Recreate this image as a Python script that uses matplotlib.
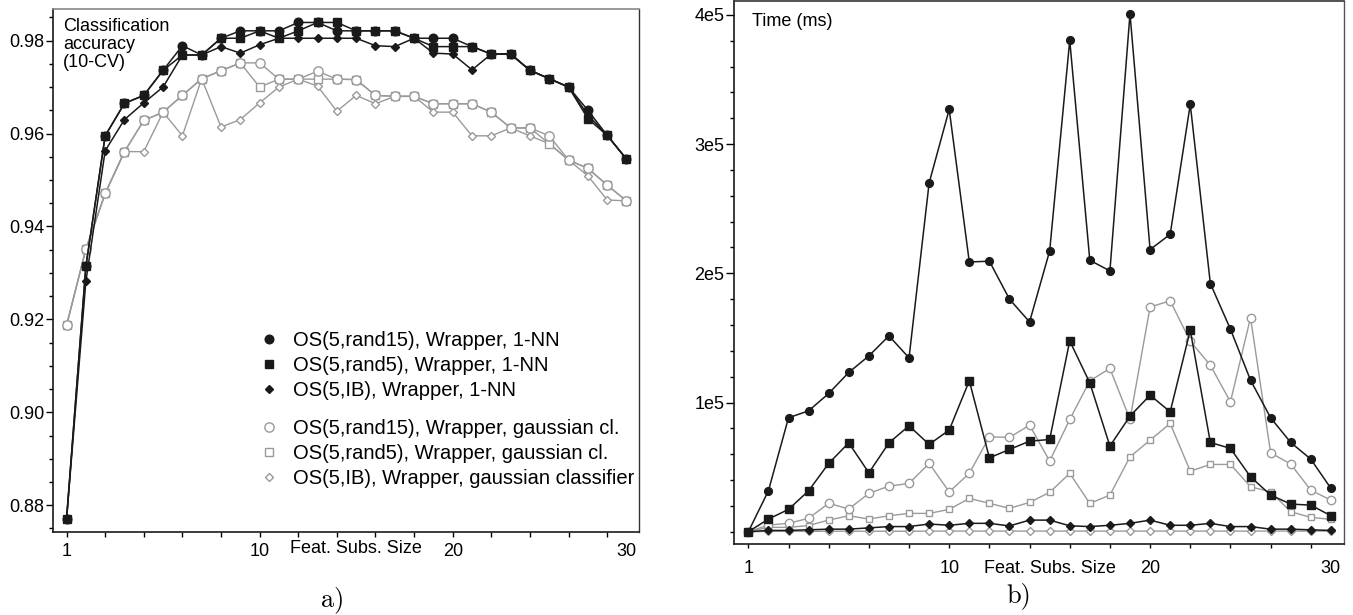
import numpy as np
import matplotlib
matplotlib.use("Agg")
import matplotlib.pyplot as plt
from matplotlib.lines import Line2D
from matplotlib.ticker import FixedLocator, NullFormatter

plt.rcParams['font.family'] = ['Liberation Sans', 'DejaVu Sans']

# feature subset sizes (x axis)
SIZES = list(range(1, 31))
XTICK_LABELS = {1: "1", 11: "10", 21: "20", 30: "30"}

LABELS = ["OS(5,rand15), Wrapper, 1-NN",
          "OS(5,rand5), Wrapper, 1-NN",
          "OS(5,IB), Wrapper, 1-NN",
          "OS(5,rand15), Wrapper, gaussian cl.",
          "OS(5,rand5), Wrapper, gaussian cl.",
          "OS(5,IB), Wrapper, gaussian classifier"]

# a) classification accuracy (10-CV)
acc_rand15_nn = [0.877, 0.9314, 0.9595, 0.9665, 0.9682, 0.9736, 0.9789, 0.9769,
                 0.9805, 0.9821, 0.9821, 0.9821, 0.9839, 0.9839, 0.9821, 0.9821,
                 0.9821, 0.9821, 0.9805, 0.9805, 0.9805, 0.9787, 0.9771, 0.9771,
                 0.9736, 0.9718, 0.9700, 0.9650, 0.9596, 0.9545]
acc_rand5_nn = [0.877, 0.9314, 0.9595, 0.9665, 0.9682, 0.9736, 0.9769, 0.9769,
                0.9805, 0.9805, 0.9821, 0.9805, 0.9821, 0.9839, 0.9839, 0.9821,
                0.9821, 0.9821, 0.9805, 0.9787, 0.9787, 0.9787, 0.9771, 0.9771,
                0.9736, 0.9718, 0.9700, 0.9632, 0.9596, 0.9545]
acc_ib_nn = [0.877, 0.9282, 0.9563, 0.9630, 0.9666, 0.9700, 0.9769, 0.9769,
             0.9787, 0.9773, 0.9791, 0.9805, 0.9805, 0.9805, 0.9805, 0.9805,
             0.9789, 0.9787, 0.9805, 0.9773, 0.9771, 0.9737, 0.9771, 0.9771,
             0.9736, 0.9718, 0.9700, 0.9640, 0.9596, 0.9545]
acc_rand15_gc = [0.9187, 0.9351, 0.9471, 0.9561, 0.9628, 0.9646, 0.9682, 0.9718,
                 0.9735, 0.9752, 0.9752, 0.9717, 0.9717, 0.9734, 0.9717, 0.9716,
                 0.9682, 0.9680, 0.9680, 0.9664, 0.9664, 0.9664, 0.9646, 0.9612,
                 0.9612, 0.9595, 0.9543, 0.9525, 0.9489, 0.9455]
acc_rand5_gc = [0.9187, 0.9351, 0.9471, 0.9561, 0.9628, 0.9646, 0.9682, 0.9718,
                0.9735, 0.9752, 0.9700, 0.9717, 0.9717, 0.9717, 0.9717, 0.9716,
                0.9682, 0.9680, 0.9680, 0.9664, 0.9664, 0.9664, 0.9646, 0.9612,
                0.9612, 0.9578, 0.9543, 0.9525, 0.9489, 0.9455]
acc_ib_gc = [0.9187, 0.9351, 0.9471, 0.9561, 0.9561, 0.9646, 0.9595, 0.9718,
             0.9614, 0.9630, 0.9666, 0.9700, 0.9717, 0.9702, 0.9648, 0.9682,
             0.9664, 0.9680, 0.9680, 0.9646, 0.9646, 0.9595, 0.9595, 0.9612,
             0.9595, 0.9578, 0.9543, 0.9509, 0.9457, 0.9455]

# b) time (ms)
time_rand15_nn = [0, 31700, 88200, 93600, 107000, 123300, 136100, 151600,
                  134600, 269900, 326900, 208800, 209400, 180000, 162400, 217300,
                  380300, 210100, 201900, 400900, 218400, 230200, 330800, 192100,
                  156800, 117300, 88200, 69100, 56200, 33600]
time_rand5_nn = [0, 9800, 17300, 31700, 52900, 68800, 45600, 68800,
                 82000, 67600, 78700, 116800, 57200, 63700, 70100, 71400,
                 147700, 115200, 66300, 89500, 105700, 92800, 156000, 69100,
                 64500, 42500, 28400, 21400, 20600, 12400]
time_ib_nn = [0, 1000, 1000, 1500, 2000, 2000, 3000, 4000,
              4000, 6000, 5000, 6500, 6500, 4500, 9000, 9000,
              4600, 4000, 5000, 6500, 9000, 5000, 5000, 6500,
              4000, 4000, 2000, 2000, 1500, 1000]
time_rand15_gc = [0, 5200, 6500, 10400, 22000, 17600, 29700, 35300,
                  37400, 52900, 30900, 45200, 73500, 73000, 82500, 54700,
                  86900, 116800, 126400, 86900, 174000, 178700, 147500, 128900,
                  100500, 165800, 61100, 52400, 32200, 24500]
time_rand5_gc = [0, 3400, 3400, 4800, 9000, 12400, 9800, 12400,
                 14200, 14200, 17300, 25800, 22000, 18100, 22700, 30500,
                 45200, 21900, 28400, 58000, 70900, 83800, 46900, 52100,
                 52100, 34800, 30900, 15500, 11100, 9600]
time_ib_gc = [0, 300, 300, 300, 400, 400, 400, 400,
              400, 500, 500, 500, 500, 500, 500, 500,
              500, 500, 500, 500, 500, 500, 500, 500,
              500, 500, 500, 500, 500, 500]

BLACK = "#1a1a1a"
GRAY = "#9a9a9a"

STYLES = [
    dict(color=BLACK, marker="o", ms=6.2, mfc=BLACK, mec=BLACK, lw=1.1, zorder=5),
    dict(color=BLACK, marker="s", ms=6.2, mfc=BLACK, mec=BLACK, lw=1.1, zorder=6),
    dict(color=BLACK, marker="D", ms=3.8, mfc=BLACK, mec=BLACK, lw=1.1, zorder=4),
    dict(color=GRAY, marker="o", ms=6.7, mfc="white", mec=GRAY, mew=1.0, lw=1.0, zorder=3),
    dict(color=GRAY, marker="s", ms=5.4, mfc="white", mec=GRAY, mew=1.0, lw=1.0, zorder=2),
    dict(color=GRAY, marker="D", ms=3.9, mfc="white", mec=GRAY, mew=1.0, lw=1.0, zorder=1),
]


def setup_x(ax, label_pad, tick_len, xlabel_dy):
    """
    x axis: one point per subset size, labels 1, 10, 20, 30
    """
    pos = {s: i for i, s in enumerate(SIZES)}
    major = [pos[s] for s in XTICK_LABELS]
    ax.xaxis.set_major_locator(FixedLocator(major))
    ax.set_xticklabels(list(XTICK_LABELS.values()))
    minor = [i for i in range(0, len(SIZES), 2) if i not in major]
    ax.xaxis.set_minor_locator(FixedLocator(minor))
    ax.tick_params(axis="x", which="both", direction="out", length=tick_len,
                   width=1.0, pad=label_pad, labelsize=13)
    ax.xaxis.get_major_ticks()[-1].tick1line.set_visible(False)
    ax.set_xlim(-0.7, len(SIZES) - 0.35)
    ax.annotate("Feat. Subs. Size", xy=(15, 0), xycoords=("data", "axes fraction"),
                xytext=(0, -(label_pad + tick_len) + xlabel_dy),
                textcoords="offset points", ha="center", va="top", fontsize=13)


def style_spines(ax, top_color, right_color):
    for side in ["left", "bottom"]:
        ax.spines[side].set_color(BLACK)
        ax.spines[side].set_linewidth(1.2)
    ax.spines["top"].set_color(top_color)
    ax.spines["right"].set_color(right_color)
    ax.spines["top"].set_linewidth(1.2)
    ax.spines["right"].set_linewidth(1.0)


fig = plt.figure(figsize=(13.53, 6.15), dpi=100)

# ---------- a) accuracy ----------
ax1 = fig.add_axes([0.0392, 0.1354, 0.4331, 0.8500])
x = np.arange(len(SIZES))
acc = [acc_rand15_nn, acc_rand5_nn, acc_ib_nn, acc_rand15_gc, acc_rand5_gc, acc_ib_gc]
for series, style in zip(acc, STYLES):
    ax1.plot(x, series, **style)

ax1.set_ylim(0.8743, 0.9868)
ax1.yaxis.set_major_locator(FixedLocator([0.88, 0.90, 0.92, 0.94, 0.96, 0.98]))
ax1.set_yticklabels(["0.88", "0.90", "0.92", "0.94", "0.96", "0.98"])
ax1.yaxis.set_minor_locator(FixedLocator(np.arange(0.875, 0.9851, 0.005)))
ax1.tick_params(axis="y", which="major", direction="out", length=5, width=1.0,
                pad=1.5, labelsize=13)
ax1.tick_params(axis="y", which="minor", direction="out", length=3, width=1.0)
setup_x(ax1, label_pad=4.5, tick_len=3.6, xlabel_dy=2)
style_spines(ax1, "#888888", "#333333")

ax1.text(0.017, 0.982, "Classification\naccuracy\n(10-CV)", transform=ax1.transAxes,
         ha="left", va="top", fontsize=13, linespacing=1.05)

handles = [Line2D([], [], linestyle="none", marker=s["marker"], ms=s["ms"],
                  mfc=s["mfc"], mec=s["mec"]) for s in STYLES]
leg_kw = dict(loc="upper left", frameon=False, fontsize=14.5, handlelength=0.9,
              handletextpad=0.7, labelspacing=0.3, borderpad=0, borderaxespad=0)
leg1 = ax1.legend(handles[:3], LABELS[:3], bbox_to_anchor=(0.3538, 0.384), **leg_kw)
ax1.add_artist(leg1)
ax1.legend(handles[3:], LABELS[3:], bbox_to_anchor=(0.3538, 0.2162), **leg_kw)

# ---------- b) time ----------
ax2 = fig.add_axes([0.5427, 0.1150, 0.4506, 0.8834])
times = [time_rand15_nn, time_rand5_nn, time_ib_nn, time_rand15_gc, time_rand5_gc, time_ib_gc]
for series, style in zip(times, STYLES):
    st = dict(style)
    if st["marker"] in ("o", "s"):
        st["ms"] = st["ms"] * 0.9
    ax2.plot(x, series, **st)

ax2.set_ylim(-9700, 410800)
ax2.yaxis.set_major_locator(FixedLocator([1e5, 2e5, 3e5, 4e5]))
ax2.set_yticklabels(["1e5", "2e5", "3e5", "4e5"])
ax2.yaxis.set_minor_locator(FixedLocator([v for v in range(0, 400001, 20000)
                                          if v % 100000 != 0 or v == 0]))
ax2.yaxis.set_minor_formatter(NullFormatter())
ax2.tick_params(axis="y", which="major", direction="out", length=5.8, width=1.0,
                pad=1.5, labelsize=13)
ax2.tick_params(axis="y", which="minor", direction="out", length=3, width=1.0)
setup_x(ax2, label_pad=8, tick_len=3.2, xlabel_dy=0)
style_spines(ax2, "#333333", "#555555")

ax2.text(0.0285, 0.962, "Time (ms)", transform=ax2.transAxes,
         ha="left", va="center", fontsize=13)

fig.text(333 / 1353, 1 - 600 / 615, "a)", family="cmr10", fontsize=19,
         ha="center", va="center")
fig.text(1019 / 1353, 1 - 596 / 615, "b)", family="cmr10", fontsize=19,
         ha="center", va="center")

fig.savefig("out.png", dpi=100)
